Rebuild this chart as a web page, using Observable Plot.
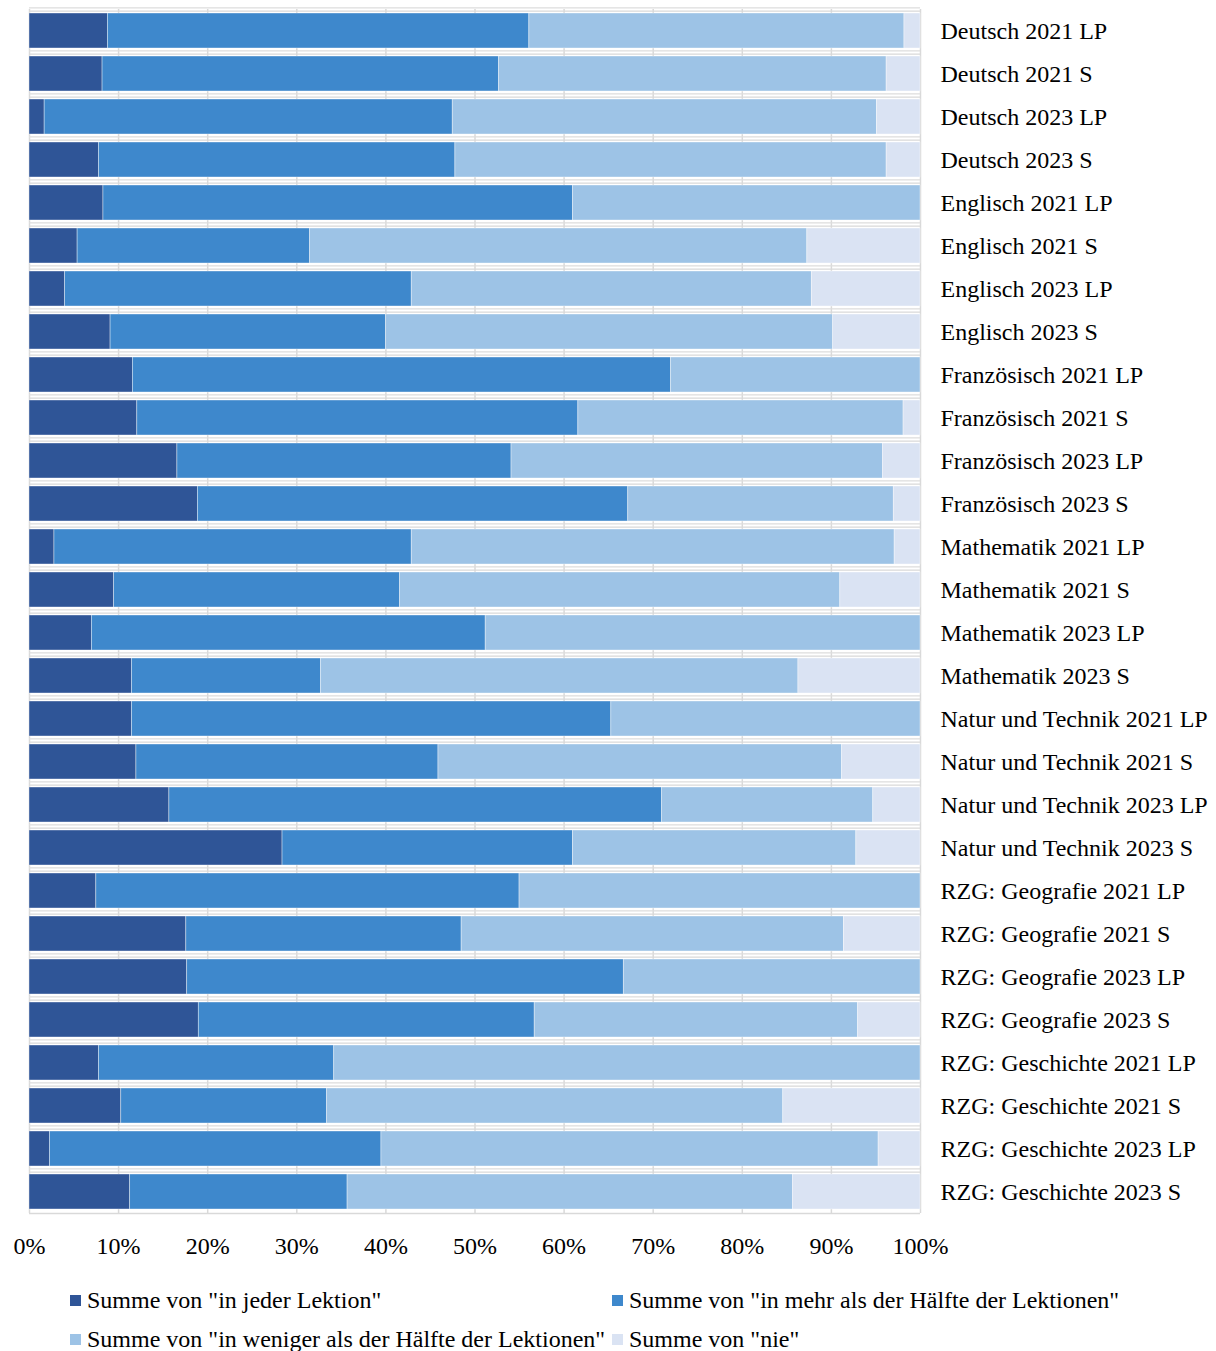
<!DOCTYPE html>
<html><head><meta charset="utf-8">
<script src="https://cdn.jsdelivr.net/npm/d3@7"></script>
<script src="https://cdn.jsdelivr.net/npm/@observablehq/plot@0.6"></script>
<style>
body{margin:0;background:#fff;font-family:"Liberation Serif","Times New Roman",serif;}
#wrap{position:relative;width:1216px;height:1351px;overflow:hidden;}
.leg{position:absolute;display:flex;align-items:center;font-size:24px;line-height:24px;color:#000;white-space:nowrap;}
.sw{width:11px;height:11px;margin-right:6px;flex:none;}
</style></head><body><div id="wrap"><div id="chart"></div><div id="legend"></div></div>
<script>
const categories = [
  "Deutsch 2021 LP","Deutsch 2021 S","Deutsch 2023 LP","Deutsch 2023 S",
  "Englisch 2021 LP","Englisch 2021 S","Englisch 2023 LP","Englisch 2023 S",
  "Französisch 2021 LP","Französisch 2021 S","Französisch 2023 LP","Französisch 2023 S",
  "Mathematik 2021 LP","Mathematik 2021 S","Mathematik 2023 LP","Mathematik 2023 S",
  "Natur und Technik 2021 LP","Natur und Technik 2021 S","Natur und Technik 2023 LP","Natur und Technik 2023 S",
  "RZG: Geografie 2021 LP","RZG: Geografie 2021 S","RZG: Geografie 2023 LP","RZG: Geografie 2023 S",
  "RZG: Geschichte 2021 LP","RZG: Geschichte 2021 S","RZG: Geschichte 2023 LP","RZG: Geschichte 2023 S"
];
const seriesNames = [
  'Summe von "in jeder Lektion"',
  'Summe von "in mehr als der Hälfte der Lektionen"',
  'Summe von "in weniger als der Hälfte der Lektionen"',
  'Summe von "nie"'
];
const jederLektion = [8.8,8.2,1.7,7.8, 8.3,5.4,4.0,9.1, 11.6,12.1,16.6,18.9, 2.8,9.5,7.0,11.5, 11.5,12.0,15.7,28.4, 7.5,17.6,17.7,19.0, 7.8,10.3,2.3,11.3];
const mehrAlsHaelfte = [47.3,44.5,45.8,40.0, 52.7,26.1,38.9,30.9, 60.4,49.5,37.5,48.3, 40.1,32.1,44.2,21.2, 53.8,33.9,55.3,32.6, 47.5,30.9,49.0,37.7, 26.4,23.1,37.2,24.4];
const wenigerAlsHaelfte = [42.1,43.5,47.6,48.4, 39.0,55.8,44.9,50.2, 28.0,36.5,41.7,29.8, 54.2,49.4,48.8,53.6, 34.7,45.3,23.7,31.8, 45.0,42.9,33.3,36.3, 65.8,51.2,55.8,50.0];
const nie = [1.8,3.8,4.9,3.8, 0,12.7,12.2,9.8, 0,1.9,4.2,3.0, 2.9,9.0,0,13.7, 0,8.8,5.3,7.2, 0,8.6,0,7.0, 0,15.4,4.7,14.3];
const xTicks = [0,10,20,30,40,50,60,70,80,90,100];

const palette = ["#2F5597","#3E88CC","#9DC3E6","#DAE3F3"];
const seriesValues = [jederLektion, mehrAlsHaelfte, wenigerAlsHaelfte, nie];

const rows = [];
categories.forEach((c, i) => {
  seriesNames.forEach((s, j) => rows.push({category: c, series: s, value: seriesValues[j][i]}));
});

const font = '"Liberation Serif","Times New Roman",serif';
const chart = Plot.plot({
  width: 1216,
  height: 1270,
  marginLeft: 29,
  marginRight: 296,
  marginTop: 9,
  marginBottom: 57,
  style: {fontFamily: font, background: "white", color: "#000"},
  x: {domain: [0, 100], ticks: xTicks},
  y: {domain: categories, paddingInner: 0.18, paddingOuter: 0.09},
  color: {domain: seriesNames, range: palette},
  marks: [
    Plot.ruleX(xTicks, {stroke: "#D9D9D9", strokeWidth: 1.5}),
    Plot.ruleY(categories, {y: d => d, dy: -19.8, stroke: "#D9D9D9", strokeWidth: 1.3}),
    Plot.ruleY(categories, {y: d => d, dy: -23.2, stroke: "#DDDDDD", strokeWidth: 1.3}),
    Plot.ruleY(categories.slice(-1), {y: d => d, dy: 21.5, stroke: "#D9D9D9", strokeWidth: 1.5}),
    Plot.barX(rows, Plot.stackX({
      y: "category", x: "value", fill: "series",
      stroke: "white", strokeWidth: 0.7, strokeOpacity: 0.55
    })),
    Plot.axisX({ticks: xTicks, tickSize: 0, tickPadding: 23, fontSize: 24, tickFormat: d => d + "%", label: null}),
    Plot.axisY({anchor: "right", tickSize: 0, tickPadding: 20, fontSize: 24, label: null, textAnchor: "start"})
  ]
});
document.getElementById("chart").appendChild(chart);

const legendPos = [[70, 1288], [612, 1288], [70, 1327], [612, 1327]];
const legend = document.getElementById("legend");
seriesNames.forEach((s, i) => {
  const item = document.createElement("div");
  item.className = "leg";
  item.style.left = legendPos[i][0] + "px";
  item.style.top = legendPos[i][1] + "px";
  const sw = document.createElement("div");
  sw.className = "sw";
  sw.style.background = palette[i];
  const t = document.createElement("span");
  t.textContent = s;
  item.appendChild(sw);
  item.appendChild(t);
  legend.appendChild(item);
});
</script>
</body></html>
